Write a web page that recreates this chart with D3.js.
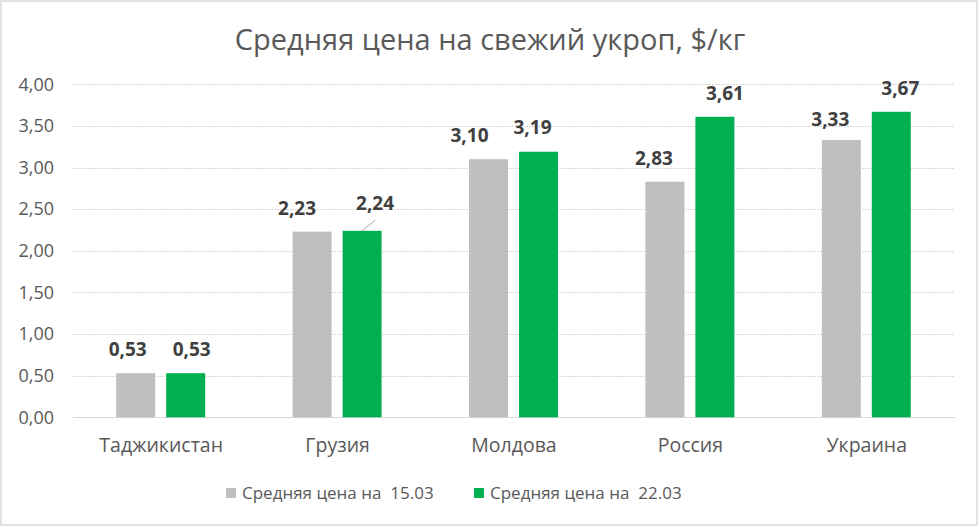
<!DOCTYPE html>
<html><head><meta charset="utf-8">
<script src="https://cdn.jsdelivr.net/npm/d3@7"></script>
<style>
html,body{margin:0;padding:0;background:#fff;}
svg{display:block;font-family:"Open Sans","Noto Sans",sans-serif;}
</style></head>
<body>
<script>
const title = "Средняя цена на свежий укроп, $/кг";
const categories = ["Таджикистан","Грузия","Молдова","Россия","Украина"];
const seriesNames = ["Средняя цена на  15.03","Средняя цена на  22.03"];
const values1503 = [0.53, 2.23, 3.10, 2.83, 3.33];
const values2203 = [0.53, 2.24, 3.19, 3.61, 3.67];
const yTicks = [0,0.5,1,1.5,2,2.5,3,3.5,4];
const colors = ["#BFBFBF","#00B050"];
// label nudges (px) per series, per category
const nudge1503 = [[-8,0],[-15,0],[-19,0],[-11,0],[-11,3]];
const nudge2203 = [[6,0],[13,-4],[-6,-1],[10,0],[9,0]];

const W=979,H=527;
const svg=d3.select("body").append("svg").attr("width",W).attr("height",H);
svg.append("rect").attr("x",1).attr("y",1).attr("width",W-3).attr("height",H-3)
  .attr("fill","#fff").attr("stroke","#d9d9d9").attr("stroke-width",1.5);

const pLeft=73,pRight=955,pTop=84.3,pBottom=417.3;
const x=d3.scaleBand().domain(categories).range([pLeft,pRight]);
const y=d3.scaleLinear().domain([0,4]).range([pBottom,pTop]);
const fmt=v=>d3.format(".2f")(v).replace(".",",");

// title
svg.append("text").attr("x",490).attr("y",50).attr("text-anchor","middle")
  .attr("font-size",29).attr("fill","#595959").text(title);

// gridlines
svg.append("g").selectAll("line").data(yTicks).join("line")
  .attr("x1",pLeft).attr("x2",pRight).attr("y1",d=>Math.round(y(d))+0.5).attr("y2",d=>Math.round(y(d))+0.5)
  .attr("stroke","#d9d9d9").attr("stroke-width",1)
  .attr("stroke-dasharray",d=>d===0?null:"2,1");

// y axis labels
const yAxis=d3.axisLeft(y).tickValues(yTicks).tickFormat(fmt).tickSize(0).tickPadding(0);
const ga=svg.append("g").attr("transform","translate(54,0)").call(yAxis);
ga.select(".domain").remove();
ga.selectAll("text").attr("font-size",18).attr("fill","#595959").attr("font-family","'Open Sans',sans-serif");

// x axis labels
const xAxis=d3.axisBottom(x).tickSize(0).tickPadding(0);
const gx=svg.append("g").attr("transform","translate(0,438)").call(xAxis);
gx.select(".domain").remove();
gx.selectAll("text").attr("font-size",19.5).attr("fill","#595959").attr("font-family","'Open Sans',sans-serif");

const barW=39;
const offsets=[-45,5];
const series=[values1503,values2203];
const nudges=[nudge1503,nudge2203];
series.forEach((vals,si)=>{
  const g=svg.append("g");
  g.selectAll("rect").data(vals).join("rect")
    .attr("x",(d,i)=>x(categories[i])+x.bandwidth()/2+offsets[si])
    .attr("y",d=>y(d)).attr("width",barW).attr("height",d=>pBottom-y(d))
    .attr("fill",colors[si]);
  g.selectAll("text").data(vals).join("text")
    .attr("x",(d,i)=>x(categories[i])+x.bandwidth()/2+offsets[si]+barW/2+nudges[si][i][0])
    .attr("y",(d,i)=>y(d)-17+nudges[si][i][1])
    .attr("text-anchor","middle").attr("font-size",19).attr("font-weight","bold")
    .attr("fill","#404040").text(d=>fmt(d));
});
// leader line for Грузия 22.03
{
  const cx=x("Грузия")+x.bandwidth()/2+offsets[1]+barW/2;
  svg.append("line").attr("x1",cx).attr("y1",y(values2203[1])).attr("x2",cx+13).attr("y2",y(values2203[1])-10.5)
    .attr("stroke","#a6a6a6").attr("stroke-width",1);
}

// legend
const leg=svg.append("g");
const legX=[226,474];
seriesNames.forEach((n,i)=>{
  leg.append("rect").attr("x",legX[i]).attr("y",488).attr("width",10).attr("height",10).attr("fill",colors[i]);
  leg.append("text").attr("x",legX[i]+16).attr("y",499).attr("font-size",17).attr("fill","#595959")
    .attr("xml:space","preserve").style("white-space","pre").text(n);
});
</script>
</body></html>
